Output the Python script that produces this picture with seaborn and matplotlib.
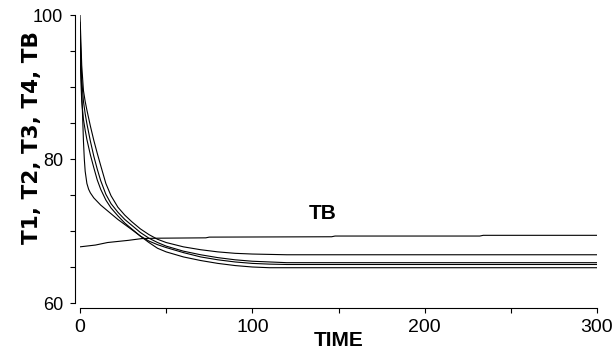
import numpy as np
import pandas as pd
import matplotlib
matplotlib.use("Agg")
import matplotlib.pyplot as plt
import seaborn as sns

# ---- data ----
t_T = [0, 0.5, 1, 2, 3, 4, 6, 8, 10, 12, 15, 18, 22, 26, 30, 35, 40, 45, 50,
       60, 70, 80, 90, 100, 110, 120, 150, 200, 300]
T1 = [100, 96.5, 93, 89.5, 88, 86.8, 84.6, 82.6, 80.8, 79.1, 76.6, 74.9, 73.3,
      72.2, 71.3, 70.3, 69.5, 68.85, 68.4, 67.8, 67.4, 67.1, 66.9, 66.8, 66.75,
      66.7, 66.7, 66.7, 66.7]
T2 = [97, 94, 91, 88, 86.3, 84.9, 82.5, 80.4, 78.6, 77.0, 75.1, 73.8, 72.6,
      71.6, 70.8, 69.8, 69.0, 68.4, 67.9, 67.2, 66.7, 66.3, 66.0, 65.8, 65.7,
      65.6, 65.6, 65.6, 65.6]
T3 = [95, 91, 88, 85.5, 84, 82.7, 80.6, 78.8, 77.1, 75.8, 74.3, 73.2, 72.1,
      71.1, 70.3, 69.3, 68.4, 67.6, 67.1, 66.4, 65.9, 65.5, 65.2, 65.0, 64.9,
      64.9, 64.9, 64.9, 64.9]
t_T4 = [0, 0.5, 1, 1.5, 2, 2.5, 3, 4, 5, 6, 8, 10, 12, 15, 18, 22, 26, 30, 35,
        40, 45, 50, 60, 70, 80, 90, 100, 110, 120, 150, 200, 300]
T4 = [99, 94, 89.5, 86, 82.5, 80, 78.3, 76.6, 75.8, 75.3, 74.6, 74.1, 73.6,
      73.0, 72.4, 71.6, 70.9, 70.2, 69.3, 68.6, 68.1, 67.7, 67.0, 66.4, 66.0,
      65.7, 65.5, 65.4, 65.35, 65.35, 65.35, 65.35]
t_TB = [0, 9, 16, 28, 36, 45, 73, 75, 146, 148, 232, 234, 300]
TB = [67.8, 68.05, 68.4, 68.7, 68.95, 69.0, 69.05, 69.15, 69.2, 69.3, 69.3,
      69.4, 69.4]

x_major = [0, 100, 200, 300]
x_minor = [50, 150, 250]
y_major = [60, 80, 100]
y_minor = [65, 70, 75, 85, 90, 95]

series = [("T1", t_T, T1), ("T2", t_T, T2), ("T3", t_T, T3),
          ("T4", t_T4, T4), ("TB", t_TB, TB)]
df = pd.concat([pd.DataFrame({"TIME": t, "value": v, "series": n})
                for n, t, v in series], ignore_index=True)

sns.set_style("ticks")
plt.rcParams["font.family"] = ["Liberation Sans", "DejaVu Sans"]

fig = plt.figure(figsize=(6.14, 3.51), dpi=100)
ax = fig.add_axes([80 / 614, 48 / 351, 517 / 614, 288 / 351])

sns.lineplot(data=df, x="TIME", y="value", units="series", estimator=None,
             color="black", lw=0.8, ax=ax, legend=False)

ax.set_xlim(0, 300)
ax.set_ylim(60, 100)
ax.set_xticks(x_major)
ax.set_xticks(x_minor, minor=True)
ax.set_yticks(y_major)
ax.set_yticks(y_minor, minor=True)
ax.tick_params(which="both", direction="out", length=3.6, width=0.8,
               color="black")
ax.tick_params(axis="x", labelsize=14, pad=4, labelcolor="black")
ax.tick_params(axis="y", labelsize=13, pad=5, labelcolor="black")
for s in ax.spines.values():
    s.set_linewidth(0.8)
    s.set_color("black")
sns.despine(ax=ax, offset=3.6, trim=True)

ax.set_xlabel("TIME", fontsize=15, fontweight="bold", color="black")
ax.xaxis.set_label_coords(0.5, -0.098)
ax.set_ylabel("T1, T2, T3, T4, TB", fontsize=15.5, fontweight="bold",
              family=["DejaVu Sans"], color="black")
ax.yaxis.set_label_coords(-0.074, 0.576)
ax.text(141, 72.4, "TB", fontsize=15, fontweight="bold", ha="center",
        va="center", color="black")

fig.savefig("out.png", dpi=100)
